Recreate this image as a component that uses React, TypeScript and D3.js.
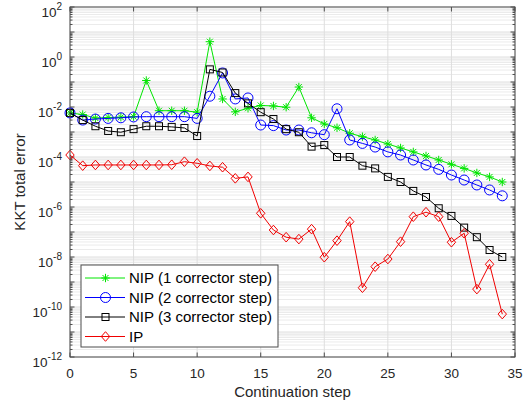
// KKT total error over continuation steps, log scale
import React from "react";
import * as d3 from "d3";

const steps = d3.range(0, 35);

const nip1 = [
  5.8e-3, 5.0e-3, 3.6e-3, 3.8e-3, 3.9e-3, 4.1e-3, 0.115, 7.1e-3, 7.1e-3, 7.1e-3,
  6.2e-3, 4.1, 0.021, 6.4e-3, 8.9e-3, 0.0115, 0.011, 9.8e-3, 0.063, 3.7e-3,
  2.1e-3, 1.48e-3, 8.9e-4, 6.5e-4, 4.8e-4, 3.3e-4, 2.3e-4, 1.6e-4, 1.1e-4, 7.6e-5,
  5.1e-5, 3.5e-5, 2.3e-5, 1.6e-5, 1.0e-5,
];

const nip2 = [
  5.8e-3, 3.0e-3, 3.3e-3, 3.5e-3, 3.7e-3, 4.0e-3, 4.1e-3, 4.1e-3, 4.1e-3, 4.1e-3,
  3.5e-3, 0.027, 0.23, 0.021, 0.023, 1.9e-3, 1.8e-3, 1.2e-3, 1.2e-3, 9.3e-4,
  7.8e-4, 8.5e-3, 4.8e-4, 3.5e-4, 2.5e-4, 1.6e-4, 1.2e-4, 7.6e-5, 4.8e-5, 3.2e-5,
  1.9e-5, 1.2e-5, 7.6e-6, 4.8e-6, 2.8e-6,
];

const nip3 = [
  5.8e-3, 3.0e-3, 1.7e-3, 1.1e-3, 9.8e-4, 1.3e-3, 1.7e-3, 1.7e-3, 1.6e-3, 1.45e-3,
  6.9e-4, 0.32, 0.24, 0.036, 0.014, 6.2e-3, 3.3e-3, 1.3e-3, 9.8e-4, 2.6e-4,
  3.0e-4, 1.0e-4, 1.0e-4, 4.5e-5, 3.5e-5, 1.6e-5, 1.0e-5, 4.4e-6, 2.5e-6, 8.9e-7,
  4.4e-7, 1.5e-7, 6.2e-8, 1.9e-8, 1.0e-8,
];

const ip = [
  1.2e-4, 4.5e-5, 4.8e-5, 4.8e-5, 4.8e-5, 4.8e-5, 4.8e-5, 4.8e-5, 4.9e-5, 6.5e-5,
  5.6e-5, 4.4e-5, 3.9e-5, 1.4e-5, 1.6e-5, 5.6e-7, 1.2e-7, 6.2e-8, 5.2e-8, 1.3e-7,
  9.8e-9, 4.5e-8, 2.6e-7, 5.9e-10, 4.1e-9, 8.3e-9, 4.1e-8, 4.1e-7, 6.2e-7, 4.1e-7,
  3.9e-8, 8.9e-8, 5.2e-10, 5.1e-9, 5.2e-11,
];

const seriesNames = [
  "NIP (1 corrector step)",
  "NIP (2 corrector step)",
  "NIP (3 corrector step)",
  "IP",
];

const xTicks = [0, 5, 10, 15, 20, 25, 30, 35];
const yTickExps = [2, 0, -2, -4, -6, -8, -10, -12];

const W = 526;
const H = 408;
const left = 70;
const right = 515;
const top = 7;
const bottom = 357;
const font = "'Liberation Sans', Arial, sans-serif";

type MarkerKind = "star" | "circle" | "square" | "diamond";

function Marker({ kind, x, y, color }: { kind: MarkerKind; x: number; y: number; color: string }) {
  if (kind === "circle") {
    return <circle cx={x} cy={y} r={5} fill="none" stroke={color} strokeWidth={1} />;
  }
  if (kind === "square") {
    return <rect x={x - 3.5} y={y - 3.5} width={7} height={7} fill="none" stroke={color} strokeWidth={1} />;
  }
  if (kind === "diamond") {
    return (
      <path
        d={`M${x},${y - 4.8}L${x + 4.2},${y}L${x},${y + 4.8}L${x - 4.2},${y}Z`}
        fill="none"
        stroke={color}
        strokeWidth={1}
      />
    );
  }
  const r = 4.2;
  const d = r * 0.707;
  return (
    <path
      d={`M${x - r},${y}H${x + r}M${x},${y - r}V${y + r}M${x - d},${y - d}L${x + d},${y + d}M${x - d},${y + d}L${x + d},${y - d}`}
      stroke={color}
      strokeWidth={1}
    />
  );
}

export default function App() {
  const xScale = d3.scaleLinear().domain([0, 35]).range([left, right]);
  const yScale = d3.scaleLog().domain([1e-12, 1e2]).range([bottom, top]);

  const series = [
    { name: seriesNames[0], values: nip1, color: "#00e600", marker: "star" as MarkerKind },
    { name: seriesNames[1], values: nip2, color: "#0000ff", marker: "circle" as MarkerKind },
    { name: seriesNames[2], values: nip3, color: "#000000", marker: "square" as MarkerKind },
    { name: seriesNames[3], values: ip, color: "#f00000", marker: "diamond" as MarkerKind },
  ];

  const line = d3
    .line<number>()
    .x((_, i) => xScale(steps[i]))
    .y((d) => yScale(d));

  // minor and major gridlines for the log axis
  const minorY: number[] = [];
  const decadesY: number[] = [];
  for (let e = -12; e < 2; e++) {
    decadesY.push(Math.pow(10, e));
    for (let m = 2; m <= 9; m++) minorY.push(m * Math.pow(10, e));
  }
  decadesY.push(100);

  const legX = 81;
  const legY = 265;
  const legW = 197;
  const legH = 82;
  const rowH = 19.5;

  return (
    <svg width={W} height={H} style={{ position: "absolute", left: 0, top: 0, background: "#fff" }}>
      {/* grid */}
      <g>
        {minorY.map((v, i) => (
          <line key={"m" + i} x1={left} x2={right} y1={yScale(v)} y2={yScale(v)} stroke="#ebebeb" strokeWidth={1} />
        ))}
        {decadesY.map((v, i) => (
          <line key={"d" + i} x1={left} x2={right} y1={yScale(v)} y2={yScale(v)} stroke="#dedede" strokeWidth={1} />
        ))}
        {xTicks.map((t) => (
          <line key={"x" + t} x1={xScale(t)} x2={xScale(t)} y1={top} y2={bottom} stroke="#dedede" strokeWidth={1} />
        ))}
      </g>

      {/* ticks */}
      <g stroke="#4d4d4d" strokeWidth={1}>
        {xTicks.map((t) => (
          <g key={"xt" + t}>
            <line x1={xScale(t)} x2={xScale(t)} y1={bottom} y2={bottom - 4.5} />
            <line x1={xScale(t)} x2={xScale(t)} y1={top} y2={top + 4.5} />
          </g>
        ))}
        {minorY.map((v, i) => (
          <g key={"ym" + i}>
            <line x1={left} x2={left + 2.5} y1={yScale(v)} y2={yScale(v)} />
            <line x1={right} x2={right - 2.5} y1={yScale(v)} y2={yScale(v)} />
          </g>
        ))}
        {decadesY.map((v, i) => (
          <g key={"yd" + i}>
            <line x1={left} x2={left + 4.5} y1={yScale(v)} y2={yScale(v)} />
            <line x1={right} x2={right - 4.5} y1={yScale(v)} y2={yScale(v)} />
          </g>
        ))}
      </g>

      {/* series */}
      {series.map((s) => (
        <g key={s.name}>
          <path d={line(s.values) || ""} fill="none" stroke={s.color} strokeWidth={1} />
          {s.values.map((v, i) => (
            <Marker key={i} kind={s.marker} x={xScale(steps[i])} y={yScale(v)} color={s.color} />
          ))}
        </g>
      ))}

      {/* axes box */}
      <rect x={left} y={top} width={right - left} height={bottom - top} fill="none" stroke="#4d4d4d" strokeWidth={1} />

      {/* tick labels */}
      <g fontFamily={font} fontSize={13.5} fill="#262626">
        {xTicks.map((t) => (
          <text key={"xl" + t} x={xScale(t)} y={bottom + 21} textAnchor="middle">
            {t}
          </text>
        ))}
        {yTickExps.map((e) => (
          <text key={"yl" + e} x={62} y={yScale(Math.pow(10, e)) + 9.5} textAnchor="end">
            10
            <tspan dy={-6.5} fontSize={10}>
              {e < 0 ? "-" + Math.abs(e) : String(e)}
            </tspan>
          </text>
        ))}
      </g>

      {/* axis labels */}
      <text x={(left + right) / 2} y={397} textAnchor="middle" fontFamily={font} fontSize={15} fill="#262626">
        Continuation step
      </text>
      <text
        transform={`translate(25, ${(top + bottom) / 2}) rotate(-90)`}
        textAnchor="middle"
        fontFamily={font}
        fontSize={15}
        fill="#262626"
      >
        KKT total error
      </text>

      {/* legend */}
      <g>
        <rect x={legX} y={legY} width={legW} height={legH} fill="#fff" stroke="#4d4d4d" strokeWidth={1} />
        {series.map((s, i) => {
          const cy = legY + 13 + i * rowH;
          return (
            <g key={"lg" + i}>
              <line x1={legX + 4} x2={legX + 44} y1={cy} y2={cy} stroke={s.color} strokeWidth={1} />
              <Marker kind={s.marker} x={legX + 24.5} y={cy} color={s.color} />
              <text x={legX + 48} y={cy + 5.2} fontFamily={font} fontSize={15} fill="#000">
                {s.name}
              </text>
            </g>
          );
        })}
      </g>
    </svg>
  );
}
